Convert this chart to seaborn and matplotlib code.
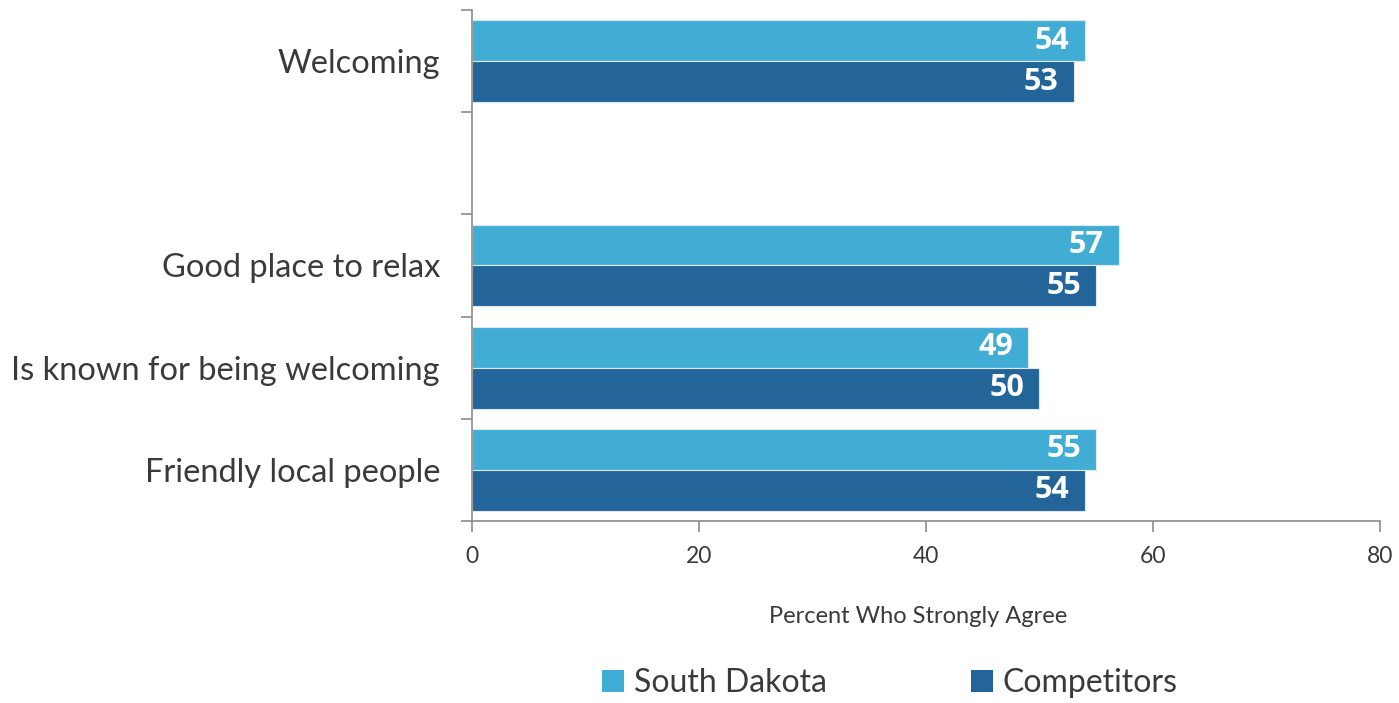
import matplotlib
matplotlib.use("Agg")
import matplotlib.pyplot as plt
from matplotlib.patches import Patch
import numpy as np
import pandas as pd
import seaborn as sns

# Survey attributes (top to bottom); the blank slot is a spacer row
categories = ["Welcoming", "", "Good place to relax",
              "Is known for being welcoming", "Friendly local people"]
south_dakota = [54, np.nan, 57, 49, 55]
competitors = [53, np.nan, 55, 50, 54]
series = ["South Dakota", "Competitors"]
x_ticks = [0, 20, 40, 60, 80]

colors = {"South Dakota": "#41ADD5", "Competitors": "#246599"}
text_color = "#3A3A3A"
spine_color = "#8C8C8C"

df = pd.DataFrame({
    "category": categories * 2,
    "series": [series[0]] * len(categories) + [series[1]] * len(categories),
    "value": south_dakota + competitors,
})

sns.set_theme(style="white")
plt.rcParams["font.family"] = ["Lato", "DejaVu Sans"]

fig = plt.figure(figsize=(13.99, 7.03), dpi=100)
ax = fig.add_axes([0.3374, 0.2589, 0.6490, 0.7269])

sns.barplot(data=df, y="category", x="value", hue="series",
            order=categories, hue_order=series, palette=colors,
            saturation=1, orient="h", width=0.8,
            edgecolor="#DDE8F0", linewidth=0.8, legend=False, ax=ax)

# White value labels, right-aligned just inside each bar end
for container in ax.containers:
    for patch, v in zip(container.patches, container.datavalues):
        if np.isnan(v):
            continue
        ax.annotate(f"{v:.0f}",
                    xy=(patch.get_x() + patch.get_width(),
                        patch.get_y() + patch.get_height() / 2),
                    xytext=(-11, 0), textcoords="offset points",
                    ha="right", va="center", color="white",
                    fontsize=22, fontweight="bold",
                    fontfamily=["Open Sans", "DejaVu Sans"])

n = len(categories)
ax.set_ylim(n - 0.5, -0.5)
ax.set_xlim(x_ticks[0], x_ticks[-1])

# Major ticks sit on the slot boundaries, labels on the slot centres
ax.set_yticks(np.arange(-0.5, n, 1.0))
ax.set_yticklabels([])
ax.set_yticks(np.arange(n), minor=True)
ax.set_yticklabels(categories, minor=True, fontsize=23.5, color=text_color)
ax.tick_params(axis="y", which="minor", length=0, pad=23)
ax.tick_params(axis="y", which="major", length=8, width=1.2,
               color=spine_color, direction="out", left=True)

ax.set_xticks(x_ticks)
ax.set_xticklabels([str(t) for t in x_ticks], fontsize=16.5, color=text_color)
ax.tick_params(axis="x", length=8, width=1.2, color=spine_color,
               direction="out", bottom=True, pad=10)

ax.set_xlabel("Percent Who Strongly Agree", fontsize=17, color=text_color,
              labelpad=28)
ax.xaxis.label.set_x(0.491)
ax.set_ylabel("")

for side in ["top", "right"]:
    ax.spines[side].set_visible(False)
for side in ["left", "bottom"]:
    ax.spines[side].set_color(spine_color)
    ax.spines[side].set_linewidth(1.2)
ax.grid(False)

handles = [Patch(facecolor=colors[s], edgecolor="none") for s in series]
fig.legend(handles, series, loc="center", bbox_to_anchor=(0.636, 0.028),
           ncol=2, frameon=False, fontsize=23, handlelength=0.7,
           handleheight=0.7, handletextpad=0.3, columnspacing=4.5,
           labelcolor=text_color)

fig.savefig("out.png", dpi=100)
